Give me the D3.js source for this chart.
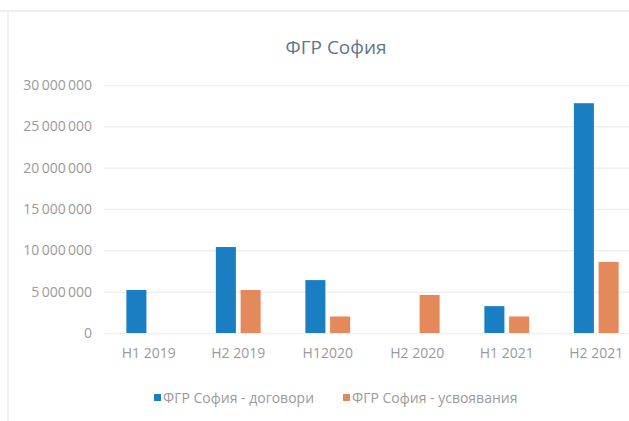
<!DOCTYPE html>
<html><head><meta charset="utf-8">
<script src="https://cdn.jsdelivr.net/npm/d3@7"></script>
<style>
html,body{margin:0;padding:0;background:#fff;}
svg{display:block;}
text{font-family:"Open Sans","Noto Sans",sans-serif;}
</style></head>
<body>
<svg id="c" width="629" height="421"></svg>
<script>
const categories = ["H1 2019", "H2 2019", "H12020", "H2 2020", "H1 2021", "H2 2021"];
const seriesNames = ["ФГР София - договори", "ФГР София - усвоявания"];
const contracts = [5200000, 10400000, 6400000, 0, 3250000, 27800000];
const absorbed = [0, 5200000, 2000000, 4600000, 2000000, 8600000];
const yTicks = [0, 5000000, 10000000, 15000000, 20000000, 25000000, 30000000];
const title = "ФГР София";
const colors = ["#1a7fc2", "#e4895c"];

const svg = d3.select("#c");
// faint scan border
svg.append("line").attr("x1",0).attr("x2",629).attr("y1",11).attr("y2",11).attr("stroke","#eeeeee").attr("stroke-width",2);
svg.append("line").attr("x1",8).attr("x2",8).attr("y1",11).attr("y2",421).attr("stroke","#f2f2f2").attr("stroke-width",2);

const x0 = d3.scaleBand().domain(categories).range([104, 641]).paddingInner(0.5).paddingOuter(0.25);
const x1 = d3.scaleBand().domain(seriesNames).range([0, x0.bandwidth()]).paddingInner(0.19);
const y = d3.scaleLinear().domain([0, 30000000]).range([333, 85]);

const fmt = v => d3.format(",")(v).replace(/,/g, "\u2009");

// gridlines + y labels
const yAxis = d3.axisLeft(y).tickValues(yTicks).tickSize(-(629 - 104)).tickFormat(fmt);
const gy = svg.append("g").attr("transform", "translate(104,0)").call(yAxis);
gy.select(".domain").remove();
gy.selectAll(".tick line").attr("stroke", "#efefef").attr("stroke-width", 1.5);
gy.selectAll(".tick text").attr("x", -12).attr("fill", "#9a9a9a").style("font-size", "14px")
  .style("font-family", "'Open Sans','Noto Sans',sans-serif");

// x labels
const xAxis = d3.axisBottom(x0).tickSize(0);
const gx = svg.append("g").attr("transform", "translate(0,333)").call(xAxis);
gx.select(".domain").remove();
gx.selectAll(".tick text").attr("dy", "1.1em").attr("y", 10).attr("fill", "#9a9a9a")
  .style("font-size", "14px").style("font-family", "'Open Sans','Noto Sans',sans-serif");

// bars
const data = categories.map((c, i) => ({cat: c, vals: [contracts[i], absorbed[i]]}));
const groups = svg.append("g").selectAll("g").data(data).join("g")
  .attr("transform", d => `translate(${x0(d.cat)},0)`);
groups.selectAll("rect").data(d => d.vals.map((v, k) => ({v, k})).filter(e => e.v > 0)).join("rect")
  .attr("x", e => x1(seriesNames[e.k]))
  .attr("width", x1.bandwidth())
  .attr("y", e => y(e.v))
  .attr("height", e => y(0) - y(e.v))
  .attr("fill", e => colors[e.k]);

// title
svg.append("text").attr("x", 336).attr("y", 54).attr("text-anchor", "middle")
  .attr("fill", "#5f7688").style("font-size", "19px").text(title);

// legend
const leg = [{x: 154, name: seriesNames[0], c: colors[0]}, {x: 343, name: seriesNames[1], c: colors[1]}];
const lg = svg.append("g").selectAll("g").data(leg).join("g").attr("transform", d => `translate(${d.x},398)`);
lg.append("rect").attr("x", 0).attr("y", -4).attr("width", 7).attr("height", 7).attr("fill", d => d.c);
lg.append("text").attr("x", 9).attr("y", 5).attr("fill", "#9a9a9a").style("font-size", "14px").text(d => d.name);
</script>
</body></html>
